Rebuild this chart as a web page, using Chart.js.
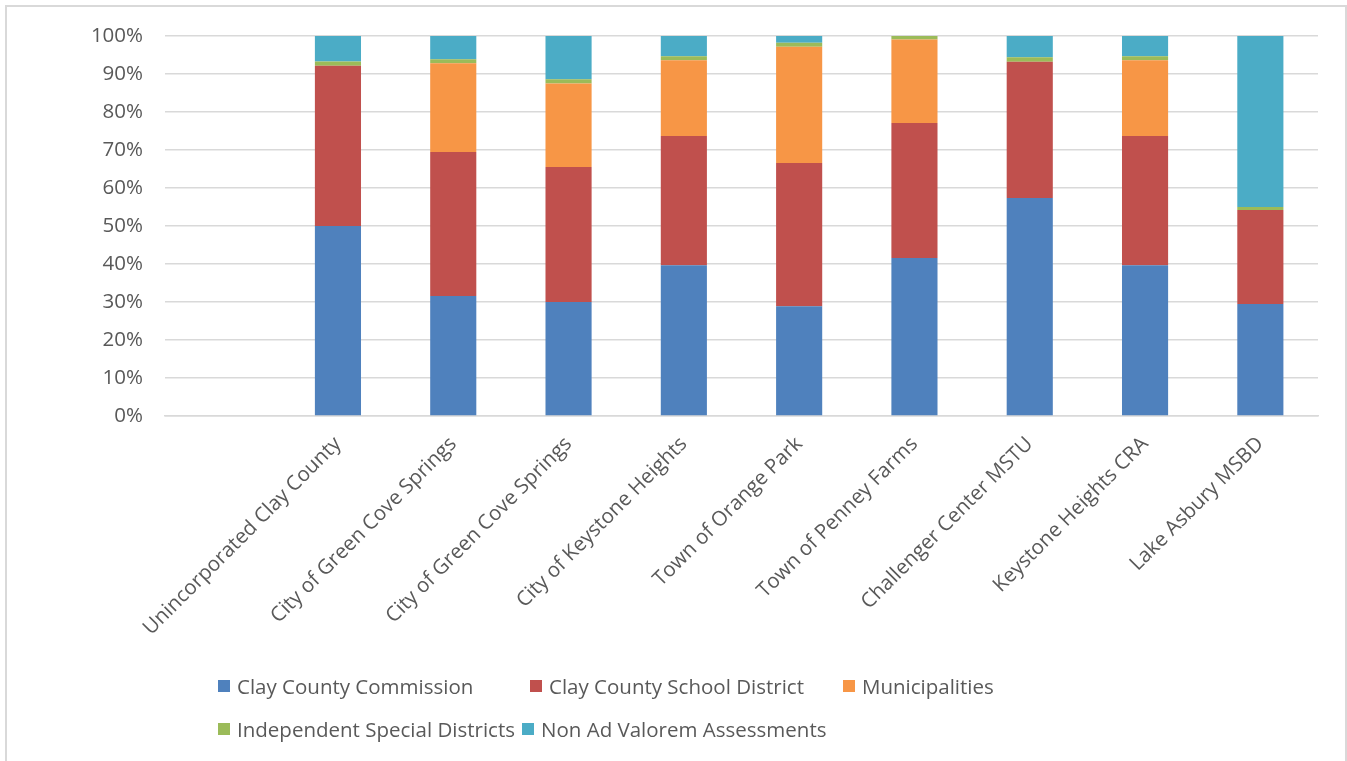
<!DOCTYPE html>
<html lang="en">
<head>
  <meta charset="UTF-8">
  <title>Clay County tax share</title>
  <style>
    body {
      margin: 0;
      width: 1347px;
      height: 761px;
      overflow: hidden;
      background: #fff;
      font-family: "Open Sans", Lato, sans-serif;
    }

    .frame {
      position: absolute;
      left: 5px;
      top: 5px;
      width: 1338px;
      height: 800px;
      border: 2px solid #d9d9d9;
    }

    .wrap {
      position: absolute;
      left: 0;
      top: 0;
      width: 1347px;
      height: 761px;
    }

    .legend-item {
      position: absolute;
      display: flex;
      align-items: center;
      font-size: 20.5px;
      color: #595959;
      white-space: nowrap;
      transform: translateY(-50%);
    }

    .legend-item span.box {
      width: 12px;
      height: 12px;
      margin-right: 7px;
    }
  </style>
</head>
<body>

<div class="frame"></div>
<div class="wrap">
  <canvas id="chart" width="1347" height="761"></canvas>
</div>
<div id="legend"></div>

<script src="https://cdn.jsdelivr.net/npm/chart.js"></script>
<script>
const categories = ['', 'Unincorporated Clay County', 'City of Green Cove Springs', 'City of Green Cove Springs',
  'City of Keystone Heights', 'Town of Orange Park', 'Town of Penney Farms', 'Challenger Center MSTU',
  'Keystone Heights CRA', 'Lake Asbury MSBD'];

const commission     = [null, 50.0, 31.6, 30.0, 39.7, 28.9, 41.6, 57.4, 39.7, 29.5];
const schoolDistrict = [null, 42.2, 37.9, 35.5, 34.0, 37.7, 35.5, 35.8, 34.0, 24.7];
const municipalities = [null, 0,    23.3, 22.0, 19.9, 30.6, 22.0, 0,    19.9, 0];
const specialDist    = [null, 1.1,  1.1,  1.1,  1.1,  1.0,  0.9,  1.2,  1.1,  0.8];
const nonAdValorem   = [null, 6.7,  6.1,  11.4, 5.3,  1.8,  0,    5.6,  5.3,  45.0];

const seriesNames = ['Clay County Commission', 'Clay County School District', 'Municipalities',
  'Independent Special Districts', 'Non Ad Valorem Assessments'];
const seriesColors = ['#4f81bd', '#c0504d', '#f79646', '#9bbb59', '#4bacc6'];

const yTicks = [0, 10, 20, 30, 40, 50, 60, 70, 80, 90, 100];

const seriesData = [commission, schoolDistrict, municipalities, specialDist, nonAdValorem];

const datasets = seriesData.map((d, i) => ({
  label: seriesNames[i],
  data: d,
  backgroundColor: seriesColors[i],
  borderWidth: 0,
  barPercentage: 0.4,
  categoryPercentage: 1
}));

const tickFont = { family: 'Open Sans', size: 20.5 };

new Chart(document.getElementById('chart'), {
  type: 'bar',
  data: { labels: categories, datasets: datasets },
  options: {
    responsive: false,
    animation: false,
    layout: { padding: { top: 36, right: 29, left: 0, bottom: 0 } },
    plugins: {
      legend: { display: false },
      tooltip: { enabled: false }
    },
    scales: {
      x: {
        stacked: true,
        grid: { display: false },
        border: { display: true, color: '#d9d9d9', width: 1.5 },
        ticks: {
          color: '#595959',
          font: tickFont,
          minRotation: 45,
          maxRotation: 45,
          autoSkip: false,
          padding: 8
        },
        afterFit: s => { s.height = 345; }
      },
      y: {
        stacked: true,
        min: 0,
        max: 100,
        afterBuildTicks: s => { s.ticks = yTicks.map(v => ({ value: v })); },
        grid: { color: '#d9d9d9', lineWidth: 1.5, drawTicks: false },
        border: { display: false },
        ticks: {
          color: '#595959',
          font: tickFont,
          padding: 22,
          callback: v => v + '%'
        },
        afterFit: s => { s.width = 165; }
      }
    }
  }
});

// legend laid out like the office chart: two rows, items left-aligned
const legendPos = [[218, 686], [530, 686], [843, 686], [218, 729], [522, 729]];
const legend = document.getElementById('legend');
seriesNames.forEach((name, i) => {
  const item = document.createElement('div');
  item.className = 'legend-item';
  item.style.left = legendPos[i][0] + 'px';
  item.style.top = legendPos[i][1] + 'px';
  item.innerHTML = '<span class="box" style="background:' + seriesColors[i] + '"></span>' + name;
  legend.appendChild(item);
});
</script>
</body>
</html>
